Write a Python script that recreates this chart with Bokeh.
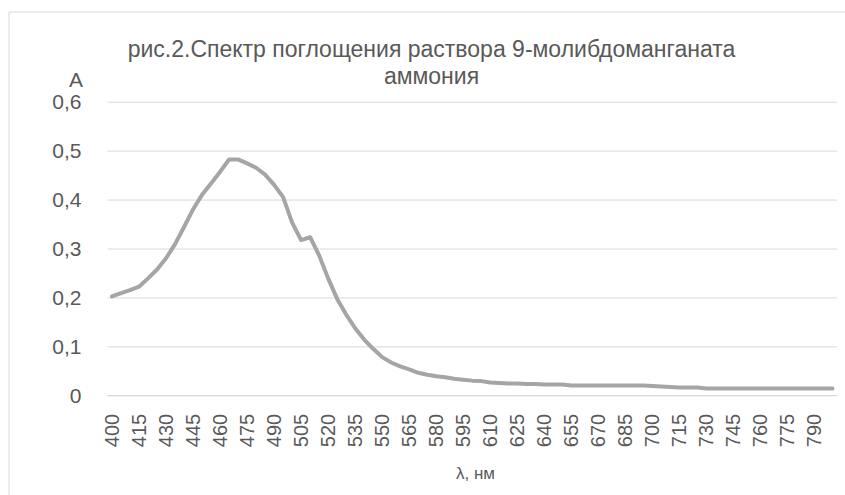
from bokeh.plotting import figure
from bokeh.models import Range1d, FixedTicker, CustomJSTickFormatter
from bokeh.core.properties import value
from bokeh.embed import file_html
from bokeh.resources import INLINE

# ---- data ----
wavelength = [400, 405, 410, 415, 420, 425, 430, 435, 440, 445,
              450, 455, 460, 465, 470, 475, 480, 485, 490, 495,
              500, 505, 510, 515, 520, 525, 530, 535, 540, 545,
              550, 555, 560, 565, 570, 575, 580, 585, 590, 595,
              600, 605, 610, 615, 620, 625, 630, 635, 640, 645,
              650, 655, 660, 665, 670, 675, 680, 685, 690, 695,
              700, 705, 710, 715, 720, 725, 730, 735, 740, 745,
              750, 755, 760, 765, 770, 775, 780, 785, 790, 795,
              800]
absorbance = [0.203, 0.210, 0.216, 0.223, 0.240, 0.258, 0.281, 0.310, 0.345, 0.381,
              0.411, 0.434, 0.458, 0.483, 0.483, 0.475, 0.466, 0.452, 0.431, 0.406,
              0.354, 0.318, 0.324, 0.287, 0.240, 0.198, 0.166, 0.138, 0.115, 0.096,
              0.079, 0.068, 0.060, 0.054, 0.047, 0.043, 0.040, 0.038, 0.035, 0.033,
              0.031, 0.030, 0.027, 0.026, 0.025, 0.025, 0.024, 0.024, 0.023, 0.023,
              0.023, 0.021, 0.021, 0.021, 0.021, 0.021, 0.021, 0.021, 0.021, 0.021,
              0.020, 0.019, 0.018, 0.017, 0.017, 0.017, 0.015, 0.015, 0.015, 0.015,
              0.015, 0.015, 0.015, 0.015, 0.015, 0.015, 0.015, 0.015, 0.015, 0.015,
              0.015]
x_ticks = [400, 415, 430, 445, 460, 475, 490, 505, 520, 535, 550, 565, 580, 595,
           610, 625, 640, 655, 670, 685, 700, 715, 730, 745, 760, 775, 790]
y_ticks = [0, 0.1, 0.2, 0.3, 0.4, 0.5, 0.6]
x_cat_lo, x_cat_hi = 397.5, 802.5   # plot-area edges (half a category beyond 400 / 800)
y_lo, y_hi = 0, 0.6
title_line1 = "рис.2.Спектр поглощения раствора 9-молибдоманганата"
title_line2 = "аммония"
y_title = "A"
x_title = "λ, нм"

FONT = "Liberation Sans"
TXT = "#595959"
GRID = "#d9d9d9"

W, H = 845, 495
# plot-area placement on the canvas (pixels)
PA_L, PA_R, PA_T, PA_B = 107.0, 836.5, 101.7, 395.3
sx = (PA_R - PA_L) / (x_cat_hi - x_cat_lo)
sy = (PA_B - PA_T) / (y_hi - y_lo)

def dx(px):
    return x_cat_lo + (px - PA_L) / sx

def dy(py):
    return y_lo + (PA_B - py) / sy

p = figure(width=W, height=H, output_backend="svg", toolbar_location=None,
           x_range=Range1d(dx(0), dx(W)), y_range=Range1d(dy(H), dy(0)),
           min_border_left=0, min_border_right=0, min_border_top=0, min_border_bottom=0)
p.outline_line_color = None
p.background_fill_color = "white"
p.border_fill_color = "white"
p.xgrid.visible = False
p.ygrid.visible = False

# chart-area border (left and top edges)
p.segment(x0=[dx(8.5), dx(8.5)], y0=[dy(11.5), dy(11.5)],
          x1=[dx(8.5), dx(W + 5)], y1=[dy(H + 5), dy(11.5)],
          line_color=GRID, line_width=1)

# horizontal gridlines across the plot area only
p.segment(x0=[x_cat_lo] * len(y_ticks), y0=y_ticks,
          x1=[x_cat_hi] * len(y_ticks), y1=y_ticks,
          line_color=GRID, line_width=1)

p.line(wavelength, absorbance, line_color="#a5a5a5", line_width=4,
       line_join="round", line_cap="round")

xa = p.xaxis[0]
xa.fixed_location = y_lo
xa.bounds = (x_cat_lo, x_cat_hi)
xa.ticker = FixedTicker(ticks=x_ticks)
xa.axis_line_color = GRID
xa.axis_line_width = 1
xa.major_tick_line_color = None
xa.minor_tick_line_color = None
xa.major_label_orientation = 1.5707963
xa.major_label_standoff = 12
xa.major_label_text_font = FONT
xa.major_label_text_font_size = "20px"
xa.major_label_text_color = TXT

ya = p.yaxis[0]
ya.fixed_location = x_cat_lo
ya.bounds = (y_lo, y_hi)
ya.ticker = FixedTicker(ticks=y_ticks)
ya.axis_line_color = None
ya.major_tick_line_color = None
ya.minor_tick_line_color = None
ya.major_label_standoff = 20
ya.major_label_text_font = FONT
ya.major_label_text_font_size = "21px"
ya.major_label_text_color = TXT
ya.formatter = CustomJSTickFormatter(code="""
    if (Math.abs(tick) < 1e-9) return '0';
    return tick.toFixed(1).replace('.', ',');
""")

# titles as text
p.text(x=[dx(431), dx(431)], y=[dy(48.5), dy(75)], text=[title_line1, title_line2],
       text_align="center", text_baseline="alphabetic",
       text_font=value(FONT), text_font_size=value("23px"), text_color=TXT)
p.text(x=[dx(75.5)], y=[dy(79)], text=[y_title],
       text_align="center", text_baseline="alphabetic",
       text_font=value(FONT), text_font_size=value("21px"), text_color=TXT)
p.text(x=[dx(475)], y=[dy(473)], text=[x_title],
       text_align="center", text_baseline="alphabetic",
       text_font=value(FONT), text_font_size=value("17px"), text_color=TXT)

open("out.html", "w").write(file_html(p, INLINE))
